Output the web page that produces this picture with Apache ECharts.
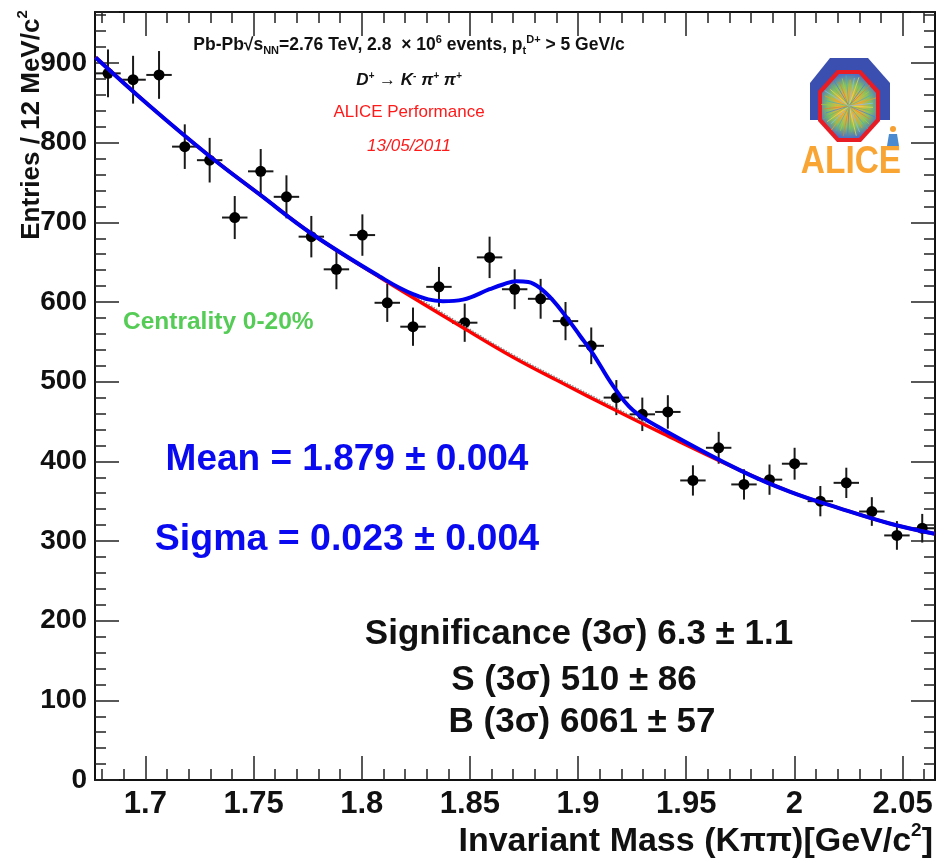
<!DOCTYPE html>
<html>
<head>
<meta charset="utf-8">
<script src="https://cdn.jsdelivr.net/npm/echarts@6/dist/echarts.min.js"></script>
<style>html,body{margin:0;padding:0;background:#fff;}#c{width:939px;height:860px;}</style>
</head>
<body>
<div id="c"></div>
<script>
// ---- data ----
const massBins = [1.6827, 1.6943, 1.7063, 1.7182, 1.7297, 1.7413, 1.7533, 1.7652, 1.7767, 1.7883, 1.8003, 1.8118, 1.8237, 1.8357, 1.8476, 1.8591, 1.8707, 1.8827, 1.8942, 1.9061, 1.9177, 1.9297, 1.9415, 1.9531, 1.9650, 1.9767, 1.9885, 2.0001, 2.0120, 2.0240, 2.0358, 2.0474, 2.0591];
const entries = [887, 879, 885, 795, 778, 706, 764, 732, 682, 641, 684, 599, 569, 619, 574, 656, 616, 604, 576, 545, 480, 459, 462, 376, 417, 371, 377, 397, 350, 373, 337, 307, 316];
const entryErrors = [30, 30, 30, 28, 28, 27, 28, 27, 26, 25, 26, 24, 24, 25, 24, 26, 25, 25, 24, 23, 22, 21, 21, 19, 20, 19, 19, 20, 19, 19, 18, 18, 18];
const binHalfWidth = 0.00588;

const bkgMass = [1.6770, 1.7020, 1.7297, 1.7528, 1.7767, 1.8083, 1.8467, 1.8698, 1.8929, 1.9160, 1.9391, 1.9747, 1.9978, 2.0209, 2.0440, 2.0648];
const bkgFit  = [907, 846, 783, 735, 686, 631, 568, 531, 498, 466, 435, 389, 362, 341, 322, 309];

const sideMass = [1.8250, 1.8467, 1.8698, 1.8929, 1.9160, 1.9320];
const sideFit  = [607, 571, 534, 501, 469, 447];

const totMass = [1.6770, 1.7020, 1.7297, 1.7528, 1.7767, 1.8083, 1.8237, 1.8375, 1.8468, 1.8591, 1.8653, 1.8715, 1.8770, 1.8822, 1.8884, 1.8946, 1.9008, 1.9069, 1.9161, 1.9254, 1.9392, 1.9747, 1.9978, 2.0209, 2.0440, 2.0648];
const totFit  = [907, 846, 783, 735, 686, 632, 610, 601, 603, 616, 622, 626, 625, 618, 602, 581, 558, 535, 495, 464, 440, 389, 362, 341, 322, 309];

const xMajorTicks = [1.70, 1.75, 1.80, 1.85, 1.90, 1.95, 2.00, 2.05];
const xMinorTicks = [1.68, 1.69, 1.71, 1.72, 1.73, 1.74, 1.76, 1.77, 1.78, 1.79, 1.81, 1.82, 1.83, 1.84, 1.86, 1.87, 1.88, 1.89, 1.91, 1.92, 1.93, 1.94, 1.96, 1.97, 1.98, 1.99, 2.01, 2.02, 2.03, 2.04, 2.06];

const X_MIN = 1.6767, X_MAX = 2.065, Y_MIN = 0, Y_MAX = 964;
const FONT = '"Liberation Sans", Arial, Helvetica, sans-serif';

const chart = echarts.init(document.getElementById('c'), null, {renderer: 'canvas'});

function xAxisDef(pos, ticks, len, labels, line) {
  return {
    type: 'value', gridIndex: 0, position: pos, min: X_MIN, max: X_MAX,
    axisLine: {show: line, lineStyle: {color: '#111', width: 2}},
    axisTick: {show: true, inside: true, length: len, customValues: ticks, lineStyle: {color: '#222', width: 1.5}},
    axisLabel: labels ? {show: true, customValues: ticks, margin: 9, color: '#111', fontFamily: FONT, fontWeight: 'bold', fontSize: 31,
      formatter: v => String(Math.round(v * 100) / 100)} : {show: false},
    splitLine: {show: false}
  };
}
function yAxisDef(pos, labels) {
  return {
    type: 'value', gridIndex: 0, position: pos, min: Y_MIN, max: Y_MAX, interval: 100,
    axisLine: {show: true, lineStyle: {color: '#111', width: 2}},
    axisTick: {show: true, inside: true, length: 24, lineStyle: {color: '#222', width: 1.5}},
    minorTick: {show: true, splitNumber: 5, length: 11, lineStyle: {color: '#222', width: 1.5}},
    axisLabel: labels ? {show: true, margin: 8, color: '#111', fontFamily: FONT, fontWeight: 'bold', fontSize: 28,
      showMaxLabel: false} : {show: false},
    splitLine: {show: false}
  };
}

// logo pieces
const cx = 849, cy = 106;
const octa = [[cx - 12, cy - 36], [cx + 12, cy - 36], [cx + 31, cy - 15], [cx + 31, cy + 15], [cx + 12, cy + 36], [cx - 12, cy + 36], [cx - 31, cy + 15], [cx - 31, cy - 15]];
const octaIn = [[cx - 10, cy - 32], [cx + 10, cy - 32], [cx + 27, cy - 13], [cx + 27, cy + 13], [cx + 10, cy + 32], [cx - 10, cy + 32], [cx - 27, cy + 13], [cx - 27, cy - 13]];
const rayColors = ['#f0e040', '#60c060', '#4080e0', '#e08030', '#a0d040', '#40b0c0', '#f0a020', '#80c0ff'];
const rays = [];
for (let k = 0; k < 40; k++) {
  const a = k * Math.PI * 2 / 40 + 0.05;
  const rr = 24 + (k % 3) * 2;
  rays.push({type: 'line', shape: {x1: cx, y1: cy, x2: cx + Math.cos(a) * rr, y2: cy + Math.sin(a) * rr * 1.1},
    style: {stroke: rayColors[k % rayColors.length], lineWidth: 1, opacity: 0.7}});
}

const option = {
  animation: false,
  backgroundColor: '#ffffff',
  grid: {left: 95, top: 12, width: 840, height: 768, containLabel: false},
  xAxis: [
    xAxisDef('bottom', xMajorTicks, 24, true, true),
    xAxisDef('bottom', xMinorTicks, 11, false, false),
    xAxisDef('top', xMajorTicks, 24, false, true),
    xAxisDef('top', xMinorTicks, 11, false, false)
  ],
  yAxis: [yAxisDef('left', true), yAxisDef('right', false)],
  series: [
    {
      type: 'custom', xAxisIndex: 0, yAxisIndex: 0, z: 3,
      data: massBins.map((m, i) => [m, entries[i], entryErrors[i]]),
      renderItem: function (params, api) {
        const x = api.value(0), y = api.value(1), e = api.value(2);
        const c = api.coord([x, y]);
        const t = api.coord([x, y + e]);
        const b = api.coord([x, y - e]);
        const l = api.coord([x - binHalfWidth, y]);
        const r = api.coord([x + binHalfWidth, y]);
        return {type: 'group', children: [
          {type: 'line', shape: {x1: c[0], y1: t[1], x2: c[0], y2: b[1]}, style: {stroke: '#1a1a1a', lineWidth: 2}},
          {type: 'line', shape: {x1: l[0], y1: c[1], x2: r[0], y2: c[1]}, style: {stroke: '#1a1a1a', lineWidth: 2}},
          {type: 'circle', shape: {cx: c[0], cy: c[1], r: 5.5}, style: {fill: '#000'}}
        ]};
      }
    },
    {
      type: 'line', name: 'bkg', xAxisIndex: 0, yAxisIndex: 0, z: 4,
      data: bkgMass.map((m, i) => [m, bkgFit[i]]), smooth: 0.4, showSymbol: false,
      lineStyle: {color: '#ff0000', width: 3.5}
    },
    {
      type: 'line', name: 'side', xAxisIndex: 0, yAxisIndex: 0, z: 4,
      data: sideMass.map((m, i) => [m, sideFit[i]]), smooth: 0.4, showSymbol: false,
      lineStyle: {color: '#888888', width: 1.5, type: 'dotted'}
    },
    {
      type: 'line', name: 'total', xAxisIndex: 0, yAxisIndex: 0, z: 5,
      data: totMass.map((m, i) => [m, totFit[i]]), smooth: 0.4, showSymbol: false,
      lineStyle: {color: '#0000ee', width: 4}
    }
  ],
  graphic: [
    // axis titles
    {type: 'text', x: 30, y: 125, rotation: Math.PI / 2, z: 10,
      style: {text: '{m|Entries / 12 MeV/c}{s|2}', align: 'center', verticalAlign: 'middle',
        rich: {m: {fontFamily: FONT, fontWeight: 'bold', fontSize: 26, fill: '#111', lineHeight: 30, verticalAlign: 'bottom'},
               s: {fontFamily: FONT, fontWeight: 'bold', fontSize: 15, fill: '#111', lineHeight: 30, verticalAlign: 'top'}}}},
    {type: 'text', x: 933, y: 840, z: 10,
      style: {text: '{m|Invariant Mass (K\u03c0\u03c0)[GeV/c}{s|2}{m|]}', align: 'right', verticalAlign: 'middle',
        rich: {m: {fontFamily: FONT, fontWeight: 'bold', fontSize: 34, fill: '#111', lineHeight: 38, verticalAlign: 'bottom'},
               s: {fontFamily: FONT, fontWeight: 'bold', fontSize: 19, fill: '#111', lineHeight: 38, verticalAlign: 'top'}}}},
    // header lines
    {type: 'text', x: 409, y: 45, z: 10,
      style: {text: '{m|Pb-Pb\u221A}{m|s}{sub|NN}{m|=2.76 TeV, 2.8  \u00d7 10}{sup|6}{m| events, p}{sub|t}{sup|D+}{m| > 5 GeV/c}',
        align: 'center', verticalAlign: 'middle',
        rich: {m: {fontFamily: FONT, fontWeight: 'bold', fontSize: 17.5, fill: '#111', lineHeight: 26, verticalAlign: 'middle'},
               sub: {fontFamily: FONT, fontWeight: 'bold', fontSize: 11, fill: '#111', lineHeight: 26, verticalAlign: 'bottom', padding: [0, 0, 2, 0]},
               sup: {fontFamily: FONT, fontWeight: 'bold', fontSize: 11, fill: '#111', lineHeight: 26, verticalAlign: 'top', padding: [2, 0, 0, 0]}}}},
    {type: 'text', x: 409, y: 80, z: 10,
      style: {text: '{m|D}{sup|+}{m| \u2192 K}{sup|-}{m| \u03c0}{sup|+}{m| \u03c0}{sup|+}', align: 'center', verticalAlign: 'middle',
        rich: {m: {fontFamily: FONT, fontWeight: 'bold', fontStyle: 'italic', fontSize: 17, fill: '#111', lineHeight: 24, verticalAlign: 'middle'},
               sup: {fontFamily: FONT, fontWeight: 'bold', fontStyle: 'italic', fontSize: 10, fill: '#111', lineHeight: 24, verticalAlign: 'top', padding: [3, 0, 0, 0]}}}},
    {type: 'text', x: 409, y: 112, z: 10,
      style: {text: 'ALICE Performance', align: 'center', verticalAlign: 'middle', fontFamily: FONT, fontSize: 17, fill: '#ff1a1a'}},
    {type: 'text', x: 409, y: 146, z: 10,
      style: {text: '13/05/2011', align: 'center', verticalAlign: 'middle', fontFamily: FONT, fontStyle: 'italic', fontSize: 17, fill: '#ff1a1a'}},
    // annotations
    {type: 'text', x: 123, y: 322, z: 10,
      style: {text: 'Centrality 0-20%', align: 'left', verticalAlign: 'middle', fontFamily: FONT, fontWeight: 'bold', fontSize: 24.5, fill: '#55cc55'}},
    {type: 'text', x: 347, y: 460, z: 10,
      style: {text: 'Mean = 1.879 \u00b1 0.004', align: 'center', verticalAlign: 'middle', fontFamily: FONT, fontWeight: 'bold', fontSize: 37, fill: '#0a0af0'}},
    {type: 'text', x: 347, y: 540, z: 10,
      style: {text: 'Sigma = 0.023 \u00b1 0.004', align: 'center', verticalAlign: 'middle', fontFamily: FONT, fontWeight: 'bold', fontSize: 37.5, fill: '#0a0af0'}},
    {type: 'text', x: 579, y: 634, z: 10,
      style: {text: 'Significance (3\u03c3) 6.3 \u00b1 1.1', align: 'center', verticalAlign: 'middle', fontFamily: FONT, fontWeight: 'bold', fontSize: 35, fill: '#111'}},
    {type: 'text', x: 574, y: 680, z: 10,
      style: {text: 'S (3\u03c3) 510 \u00b1 86', align: 'center', verticalAlign: 'middle', fontFamily: FONT, fontWeight: 'bold', fontSize: 35, fill: '#111'}},
    {type: 'text', x: 582, y: 722, z: 10,
      style: {text: 'B (3\u03c3) 6061 \u00b1 57', align: 'center', verticalAlign: 'middle', fontFamily: FONT, fontWeight: 'bold', fontSize: 35, fill: '#111'}},
    // ALICE logo
    {type: 'group', z: 10, children: [
      {type: 'polygon', shape: {points: [[810, 83], [830, 58], [868, 58], [890, 83], [890, 120], [810, 120]]}, style: {fill: '#3a4fb0'}},
      {type: 'polygon', shape: {points: octa}, style: {fill: '#e81c24'}},
      {type: 'polygon', shape: {points: octaIn}, style: {fill: {type: 'radial', x: 0.5, y: 0.5, r: 0.6,
        colorStops: [{offset: 0, color: '#f4c020'}, {offset: 0.35, color: '#e8b040'}, {offset: 0.65, color: '#88c060'}, {offset: 1, color: '#4a70c8'}]}}},
      {type: 'group', children: rays},
      {type: 'circle', shape: {cx: 893, cy: 129, r: 3}, style: {fill: '#f5a030'}},
      {type: 'polygon', shape: {points: [[889, 134], [897, 134], [899, 146], [887, 146]]}, style: {fill: '#4a8ad0'}},
      {type: 'text', x: 851, y: 163, scaleX: 0.88, originX: 0, originY: 0,
        style: {text: 'ALICE', align: 'center', verticalAlign: 'middle', fontFamily: FONT, fontWeight: 'bold', fontSize: 38, fill: '#f9a534'}}
    ]}
  ]
};
chart.setOption(option);
</script>
</body>
</html>
